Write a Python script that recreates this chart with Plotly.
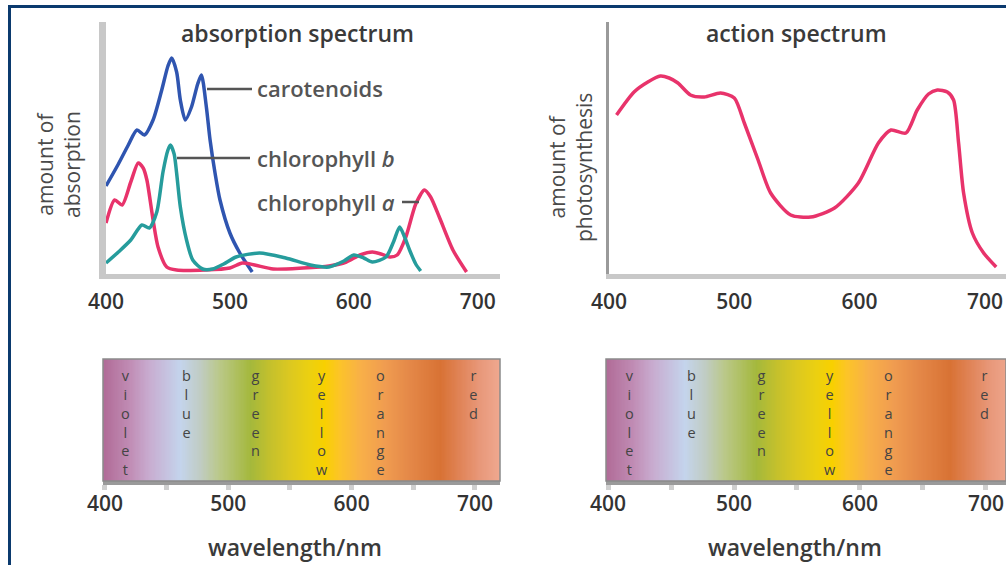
import numpy as np
import plotly.graph_objects as go

# ---------------- data ----------------
wl_car = [400, 410, 418, 425, 431, 438, 445, 450, 453, 457, 460, 464, 469, 474, 477, 481, 484, 488, 492, 500, 508, 518]
carotenoids = [86, 108, 127, 142, 137, 152, 182, 206, 214, 200, 172, 152, 165, 188, 197, 165, 132, 99, 72, 39, 19, 0]

wl_chlb = [400, 410, 420, 429, 435, 441, 446, 450, 452, 455, 457, 460, 465, 470, 478, 486, 495, 505, 524, 545,
           565, 580, 592, 600, 608, 615, 626, 632, 637, 641, 645, 650, 654]
chl_b = [9, 20, 32, 47, 44, 60, 100, 122, 127, 118, 99, 65, 32, 12, 3, 3, 8, 15, 19, 14,
         7, 5, 11, 17, 14, 10, 15, 30, 45, 35, 22, 8, 1]

wl_chla = [400, 407, 413, 420, 426, 430, 433, 438, 442, 449, 457, 480, 500, 510, 520, 535, 559, 580, 594, 605,
           615, 622, 629, 635, 642, 650, 657, 662, 669, 680, 691]
chl_a = [49, 72, 67, 90, 109, 104, 92, 52, 25, 5, 2, 2, 4, 9, 7, 3, 4, 6, 10, 17,
         20, 18, 15, 17, 35, 68, 82, 75, 55, 22, 0]

wl_act = [406, 420, 431, 441, 448, 455, 465, 476, 489, 500, 508, 519, 529, 545, 561, 580, 599, 615, 625, 637,
          646, 655, 662, 670, 675, 679, 683, 690, 699, 709]
action = [157, 180, 190, 196, 194, 189, 177, 175, 179, 174, 149, 112, 79, 57, 55, 64, 89, 129, 142, 139,
          162, 178, 182, 180, 172, 129, 79, 39, 19, 5]

tick_vals = [400, 450, 500, 550, 600, 650, 700]
tick_text = ["400", "", "500", "", "600", "", "700"]
top_tick_vals = [400, 500, 600, 700]
top_tick_text = ["400", "500", "600", "700"]

colour_names = ["violet", "blue", "green", "yellow", "orange", "red"]
colour_name_wl = [417, 466, 522, 576, 623, 699]

# spectrum band colours (wavelength -> colour)
band_wl = [398, 420, 436, 461, 477, 493, 518, 534, 550, 566, 578, 590, 607, 627, 647, 672, 688, 704, 722]
band_col = ["#b06a96", "#c08cb4", "#c8acd0", "#c4d4ec", "#c0ccc4", "#bac888", "#a4b83c", "#c4c02c",
            "#dcc820", "#ecd010", "#f8d000", "#fcc428", "#f8b048", "#f09c50", "#e48848", "#d87234",
            "#e08458", "#e8987a", "#f0aa92"]

# ---------------- helpers ----------------
W, H = 1006, 565
def px(x):
    return x / W
def py(y):
    return 1 - y / H

FONT = "Open Sans"
TXT = "#3a3a3a"

fig = go.Figure()

line_style = dict(width=3.5, shape="spline", smoothing=0.7)
fig.add_trace(go.Scatter(x=wl_car, y=carotenoids, mode="lines", line=dict(color="#2f55b0", **line_style),
                         xaxis="x", yaxis="y", hoverinfo="skip"))
fig.add_trace(go.Scatter(x=wl_chla, y=chl_a, mode="lines", line=dict(color="#e8336b", **line_style),
                         xaxis="x", yaxis="y", hoverinfo="skip"))
fig.add_trace(go.Scatter(x=wl_chlb, y=chl_b, mode="lines", line=dict(color="#269c9c", **line_style),
                         xaxis="x", yaxis="y", hoverinfo="skip"))
fig.add_trace(go.Scatter(x=wl_act, y=action, mode="lines", line=dict(color="#e8336b", **line_style),
                         xaxis="x2", yaxis="y2", hoverinfo="skip"))

# spectrum bands
grid = np.arange(398, 723, 1)
lo, hi = band_wl[0], band_wl[-1]
cscale = [[(w - lo) / (hi - lo), c] for w, c in zip(band_wl, band_col)]
for xa, ya in (("x3", "y3"), ("x4", "y4")):
    fig.add_trace(go.Heatmap(x=grid, y=[0], z=[grid], colorscale=cscale, zmin=lo, zmax=hi,
                             showscale=False, xaxis=xa, yaxis=ya, hoverinfo="skip"))

tickfont = dict(family=FONT, size=21, color="#333333", weight=600)
common_x = dict(showgrid=False, zeroline=False, tickfont=tickfont, fixedrange=True, automargin=False)

fig.update_layout(
    width=W, height=H, margin=dict(l=0, r=0, t=0, b=0, autoexpand=False),
    paper_bgcolor="white", plot_bgcolor="white", showlegend=False,
    xaxis=dict(domain=[px(106), px(500)], range=[400, 718], anchor="y",
               showline=True, linecolor="#c8c8c8", linewidth=5,
               tickvals=top_tick_vals, ticktext=top_tick_text,
               ticks="outside", ticklen=5, tickcolor="rgba(0,0,0,0)", **common_x),
    yaxis=dict(domain=[py(274), py(22)], range=[-2, 250], anchor="x", automargin=False,
               showline=True, linecolor="#c8c8c8", linewidth=7,
               showticklabels=False, ticks="", showgrid=False, zeroline=False),
    xaxis2=dict(domain=[px(609), 1.0], range=[400, 400 + (1006 - 609) / 1.253], anchor="y2",
                showline=True, linecolor="#c8c8c8", linewidth=5,
                tickvals=top_tick_vals, ticktext=top_tick_text,
                ticks="outside", ticklen=5, tickcolor="rgba(0,0,0,0)", **common_x),
    yaxis2=dict(domain=[py(274), py(22)], range=[-2, 250], anchor="x2", automargin=False,
                showline=True, linecolor="#9a9a9a", linewidth=3,
                showticklabels=False, ticks="", showgrid=False, zeroline=False),
    xaxis3=dict(domain=[px(103), px(500)], range=[398.4, 720.3], anchor="y3",
                showline=True, linecolor="#9a9a9a", linewidth=4,
                tickvals=tick_vals, ticktext=tick_text, ticklabelstandoff=-4,
                ticks="outside", ticklen=5, tickwidth=5, tickcolor="#cfcfcf", **common_x),
    yaxis3=dict(domain=[py(481), py(359)], range=[-0.5, 0.5], visible=False, anchor="x3", automargin=False),
    xaxis4=dict(domain=[px(606), 1.0], range=[398.4, 715.9], anchor="y4",
                showline=True, linecolor="#9a9a9a", linewidth=4,
                tickvals=tick_vals, ticktext=tick_text, ticklabelstandoff=-4,
                ticks="outside", ticklen=5, tickwidth=5, tickcolor="#cfcfcf", **common_x),
    yaxis4=dict(domain=[py(481), py(359)], range=[-0.5, 0.5], visible=False, anchor="x4", automargin=False),
)

shapes = []
# outer dark-blue frame
shapes.append(dict(type="rect", xref="paper", yref="paper", x0=px(9.5), x1=px(1015), y0=py(575), y1=py(6.5),
                   line=dict(color="#0b3a6e", width=3)))
# band borders
for x0, x1 in ((103, 500), (606, 1006)):
    shapes.append(dict(type="rect", xref="paper", yref="paper", x0=px(x0), x1=px(x1), y0=py(481), y1=py(359),
                       line=dict(color="#8a8a8a", width=1.5)))
# leader lines
for (x0, x1, y) in ((207, 252, 89), (177, 250, 158), (402, 419, 202)):
    shapes.append(dict(type="line", xref="paper", yref="paper", x0=px(x0), x1=px(x1), y0=py(y), y1=py(y),
                       line=dict(color="#555555", width=2.5)))
fig.update_layout(shapes=shapes)

ann = []
def text(x, y, s, size=17, xanchor="center", angle=0, color=TXT, weight=500):
    ann.append(dict(x=px(x), y=py(y), xref="paper", yref="paper", text=s, showarrow=False,
                    xanchor=xanchor, yanchor="middle", textangle=angle,
                    font=dict(family=FONT, size=size, color=color, weight=weight)))

text(297, 33, "absorption spectrum", size=23, weight=600)
text(796, 33, "action spectrum", size=23, weight=600)
text(58, 165, "amount of<br>absorption", size=21, angle=-90, color="#4a4a4a")
text(570, 168, "amount of<br>photosynthesis", size=21, angle=-90, color="#4a4a4a")
text(255, 88, "carotenoids", size=22, xanchor="left", color="#555555", weight=600)
text(255, 158, "chlorophyll <i>b</i>", size=22, xanchor="left", color="#555555", weight=600)
text(255, 202, "chlorophyll <i>a</i>", size=22, xanchor="left", color="#555555", weight=600)
text(295, 547, "wavelength/nm", size=23, weight=600)
text(795, 547, "wavelength/nm", size=23, weight=600)

# vertical colour names inside the bands (one annotation per word, letters stacked)
LET = 14.5
for xa in ("x3", "x4"):
    for name, wl in zip(colour_names, colour_name_wl):
        ann.append(dict(x=wl, y=py(364), xref=xa, yref="paper", text="<br>".join(name), showarrow=False,
                        xanchor="center", yanchor="top", align="center",
                        font=dict(family=FONT, size=LET, color="#444444")))
fig.update_layout(annotations=ann)

fig.write_html("out.html")
